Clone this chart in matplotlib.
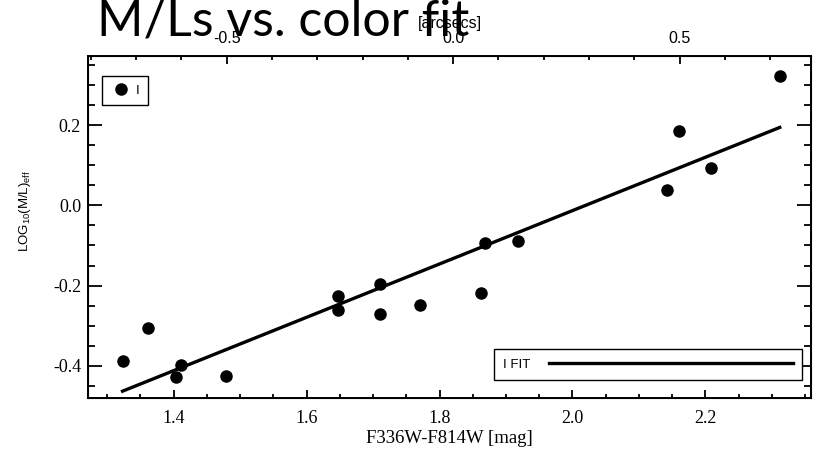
import matplotlib.pyplot as plt
from matplotlib.ticker import MultipleLocator
from matplotlib.lines import Line2D

# data
color = [1.323, 1.362, 1.403, 1.411, 1.479, 1.647, 1.647, 1.711, 1.711,
         1.770, 1.862, 1.868, 1.918, 2.143, 2.161, 2.209, 2.313]
log_ml = [-0.389, -0.305, -0.428, -0.399, -0.426, -0.225, -0.262, -0.196, -0.272,
          -0.248, -0.218, -0.094, -0.088, 0.037, 0.186, 0.092, 0.321]
fit_x = [1.323, 2.312]
fit_y = [-0.463, 0.194]

x_lim = (1.271, 2.359)
y_lim = (-0.48, 0.372)
arcsec_lim = (-0.806, 0.790)

serif = 'Liberation Serif'
sans = 'Liberation Sans'
plt.rcParams['mathtext.default'] = 'regular'

fig = plt.figure(figsize=(8.14, 4.65), dpi=100)
ax = fig.add_axes([0.1081, 0.1441, 0.8882, 0.7355])

ax.plot(color, log_ml, 'o', color='black', ms=8, label='I')
ax.plot(fit_x, fit_y, '-', color='black', lw=2.4, label='I FIT')

ax.set_xlim(*x_lim)
ax.set_ylim(*y_lim)
ax.xaxis.set_major_locator(MultipleLocator(0.2))
ax.xaxis.set_minor_locator(MultipleLocator(0.05))
ax.yaxis.set_major_locator(MultipleLocator(0.2))
ax.yaxis.set_minor_locator(MultipleLocator(0.05))
ax.xaxis.set_major_formatter(lambda v, p: f'{v:.1f}')
ax.yaxis.set_major_formatter(lambda v, p: f'{v:.1f}')

for s in ax.spines.values():
    s.set_linewidth(1.4)

ax.tick_params(axis='x', which='both', direction='in', top=False, width=1.3)
ax.tick_params(axis='x', which='major', length=5.5, pad=9)
ax.tick_params(axis='x', which='minor', length=3)
ax.tick_params(axis='y', which='both', direction='in', right=True, width=1.3)
ax.tick_params(axis='y', which='major', length=10, pad=5)
ax.tick_params(axis='y', which='minor', length=5)
for lab in ax.get_xticklabels() + ax.get_yticklabels():
    lab.set_fontfamily(serif)
    lab.set_fontsize(13)

ax.set_xlabel('F336W-F814W [mag]', fontfamily=serif, fontsize=13.5, labelpad=2)
ax.set_ylabel('LOG$_{10}$(M/L)$_{eff}$', fontfamily=sans, fontsize=9.5)
ax.yaxis.set_label_coords(-0.076, 0.547)

# top axis in arcsec
top = ax.twiny()
top.set_xlim(*arcsec_lim)
top.xaxis.set_major_locator(MultipleLocator(0.5))
top.xaxis.set_minor_locator(MultipleLocator(0.1))
top.xaxis.set_major_formatter(lambda v, p: f'{v:.1f}')
top.tick_params(axis='x', which='both', direction='in', width=1.3, pad=7)
top.tick_params(axis='x', which='major', length=5.5)
top.tick_params(axis='x', which='minor', length=3)
for lab in top.get_xticklabels():
    lab.set_fontfamily(sans)
    lab.set_fontsize(11.5)
top.set_xlabel('[arcsecs]', fontfamily=sans, fontsize=11.5, labelpad=2.5)

# legends
h_pts = Line2D([], [], ls='none', marker='o', color='black', ms=8)
leg1 = ax.legend([h_pts], ['I'], loc='upper left', bbox_to_anchor=(0.019, 0.942),
                 borderaxespad=0, fancybox=False, edgecolor='black', framealpha=1,
                 handlelength=1.6, handletextpad=0.3, borderpad=0.65,
                 prop={'family': sans, 'size': 9.5})
leg1.get_frame().set_linewidth(1.0)
ax.add_artist(leg1)

h_fit = Line2D([], [], color='black', lw=2.4)
leg2 = ax.legend([h_fit], ['I FIT'], loc='lower right', bbox_to_anchor=(0.988, 0.053),
                 borderaxespad=0, fancybox=False, edgecolor='black', framealpha=1,
                 handlelength=18.5, handletextpad=1.4, borderpad=0.7, markerfirst=False,
                 prop={'family': sans, 'size': 9.5})
leg2.get_frame().set_linewidth(1.0)

fig.text(97 / 814, 1 - 36 / 465, 'M/Ls vs. color fit', fontfamily='Lato',
         fontsize=36, va='baseline', ha='left', color='black')

fig.savefig('out.png', dpi=100)
